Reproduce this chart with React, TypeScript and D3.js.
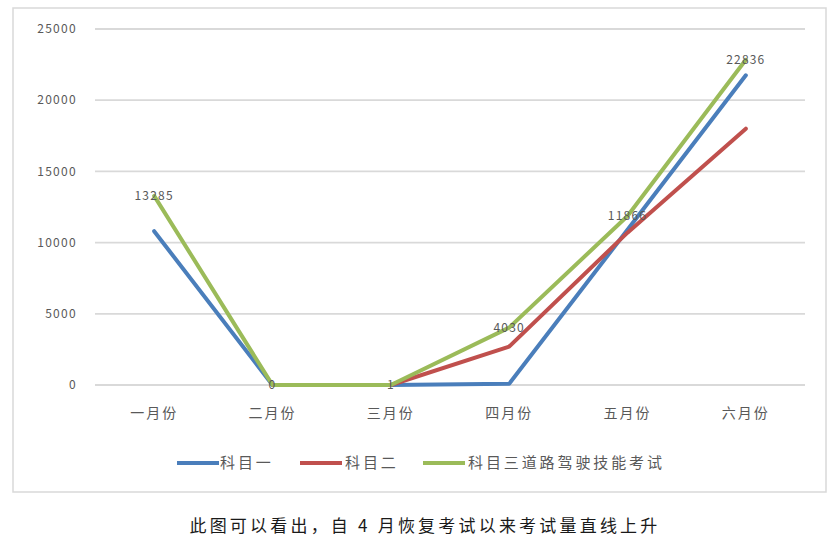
import React from 'react'
import * as d3 from 'd3'

// months on the category axis
const MONTHS = ['一月份', '二月份', '三月份', '四月份', '五月份', '六月份']

// exam counts per subject (null = no point drawn)
const SUBJECT_ONE = [10800, 0, 0, 80, 10900, 21750]
const SUBJECT_TWO: (number | null)[] = [null, 0, 0, 2700, 10700, 18000]
const SUBJECT_THREE = [13285, 0, 1, 4030, 11866, 22836]

const Y_TICKS = [0, 5000, 10000, 15000, 20000, 25000]

const SERIES = [
  { name: '科目一', values: SUBJECT_ONE, color: '#4a7ebb' },
  { name: '科目二', values: SUBJECT_TWO, color: '#c0504d' },
  { name: '科目三道路驾驶技能考试', values: SUBJECT_THREE, color: '#9bbb59' }
]

const W = 840
const H = 552
const FONT = '"Noto Sans CJK SC", "DejaVu Sans", sans-serif'

export default function App() {
  const x = d3.scaleBand<string>().domain(MONTHS).range([95, 805])
  const y = d3.scaleLinear().domain([0, 25000]).range([385, 29])
  const cx = (m: string) => (x(m) as number) + x.bandwidth() / 2

  const line = d3
    .line<number | null>()
    .defined(d => d !== null)
    .x((_, i) => cx(MONTHS[i]))
    .y(d => y(d as number))

  // legend layout: swatch start x, text start x
  const legendPos = [
    { lx: 177, tx: 220 },
    { lx: 300, tx: 345 },
    { lx: 423, tx: 468 }
  ]

  return (
    <svg
      width={W}
      height={H}
      style={{ position: 'absolute', left: 0, top: 0, background: '#fff' }}
    >
      <rect x={13} y={8} width={813} height={484} fill="#fff" stroke="#d9d9d9" strokeWidth={1.5} />

      {/* gridlines and y ticks */}
      {Y_TICKS.map(t => (
        <g key={t}>
          <line x1={95} x2={805} y1={y(t)} y2={y(t)} stroke="#d9d9d9" strokeWidth={1.8} />
          <text
            x={77}
            y={y(t)}
            dy="0.35em"
            textAnchor="end"
            fontSize={12}
            fontFamily={FONT}
            fill="#595959"
            letterSpacing={1.3}
          >
            {t}
          </text>
        </g>
      ))}

      {/* category labels */}
      {MONTHS.map(m => (
        <text
          key={m}
          x={cx(m)}
          y={413}
          dy="0.35em"
          textAnchor="middle"
          fontSize={14}
          fontFamily={FONT}
          fill="#595959"
          letterSpacing={2}
        >
          {m}
        </text>
      ))}

      {/* lines */}
      {SERIES.map(s => (
        <path
          key={s.name}
          d={line(s.values) || ''}
          fill="none"
          stroke={s.color}
          strokeWidth={4}
          strokeLinejoin="round"
          strokeLinecap="round"
        />
      ))}

      {/* data labels for subject three */}
      {SUBJECT_THREE.map((v, i) => (
        <text
          key={i}
          x={cx(MONTHS[i])}
          y={y(v)}
          dy="0.35em"
          textAnchor="middle"
          fontSize={12}
          fontFamily={FONT}
          fill="#595959"
          letterSpacing={1.2}
        >
          {v}
        </text>
      ))}

      {/* legend */}
      {SERIES.map((s, i) => (
        <g key={s.name}>
          <line
            x1={legendPos[i].lx}
            x2={legendPos[i].lx + 42}
            y1={463}
            y2={463}
            stroke={s.color}
            strokeWidth={4}
          />
          <text
            x={legendPos[i].tx}
            y={463}
            dy="0.35em"
            fontSize={15}
            fontFamily={FONT}
            fill="#595959"
            letterSpacing={2.9}
          >
            {s.name}
          </text>
        </g>
      ))}

      <text
        x={425}
        y={526}
        dy="0.35em"
        textAnchor="middle"
        fontSize={17}
        fontFamily={FONT}
        fill="#1a1a1a"
        letterSpacing={3.2}
      >
        此图可以看出，自 4 月恢复考试以来考试量直线上升
      </text>
    </svg>
  )
}
